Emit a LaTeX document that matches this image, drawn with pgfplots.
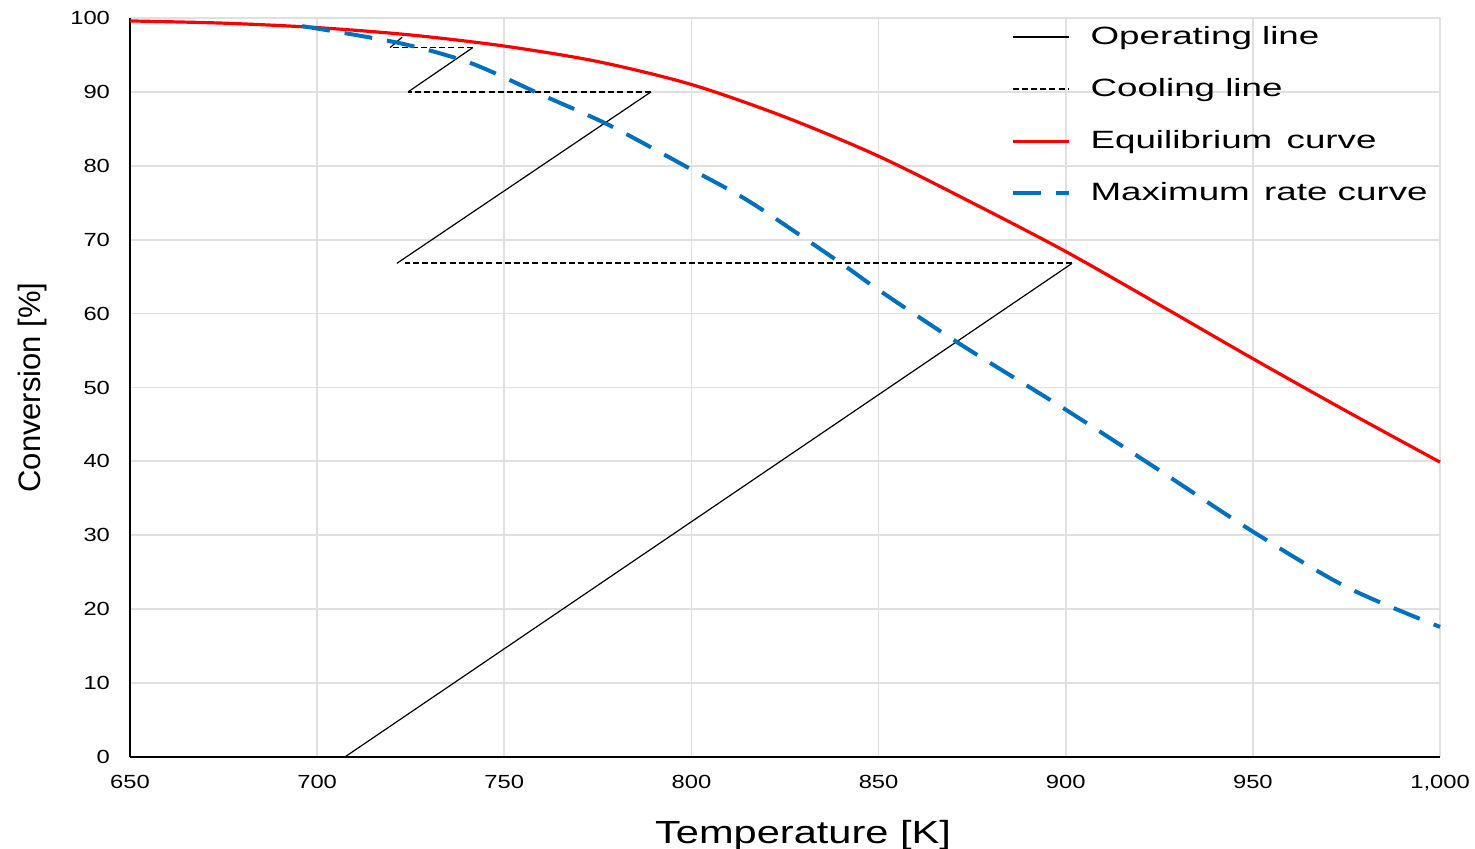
\documentclass[border=0pt]{standalone}
\usepackage{pgfplots}
\pgfplotsset{compat=1.18}
\usepackage{fontspec}
\setmainfont{Liberation Sans}
\newfontfamily\legfont{Liberation Sans}[FakeStretch=1.47]
\newfontfamily\tickfont{Liberation Sans}[FakeStretch=1.25]
\newfontfamily\xlabfont{Liberation Sans}[FakeStretch=1.3]
\definecolor{eqred}{RGB}{255,0,0}
\definecolor{rateblue}{RGB}{0,112,192}
\begin{document}
\begin{tikzpicture}
\begin{axis}[
  scale only axis, width=655pt, height=369.5pt,
  xmin=650, xmax=1000, ymin=0, ymax=100,
  xtick={650,700,...,1000}, ytick={0,10,...,100},
  grid=major, major grid style={black!12, line width=0.9pt},
  axis x line*=bottom, axis y line*=left,
  axis line style={line width=1.3pt, -},
  major tick length=0pt,
  /pgf/number format/.cd, 1000 sep={,}, assume math mode=true,
  /pgfplots/.cd,
  tick label style={font=\tickfont\fontsize{9.5}{10}\selectfont},
  xticklabel style={yshift=-5.5pt},
  yticklabel style={xshift=-6.5pt},
  xlabel={\xlabfont\fontsize{16}{18}\selectfont Temperature [K]},
  ylabel={\fontsize{15.5}{17}\selectfont Conversion [\%]},
  xlabel style={yshift=-8pt, xshift=9pt},
  ylabel style={yshift=5pt},
  legend style={at={(1,1)}, anchor=north east, draw=none, fill=none,
    font=\legfont\fontsize{12.5}{14}\selectfont, row sep=11.5pt,
    inner xsep=2pt, inner ysep=1pt, xshift=-2pt, yshift=-1pt},
  legend cell align=left,
  legend image code/.code={\draw[#1] (0pt,0pt) -- (28pt,0pt);},
  clip=false,
]
% Operating lines
\addplot[black, line width=0.6pt, unbounded coords=jump] coordinates {
 (707.4,0) (901.7,66.8)
 (721.3,nan)
 (721.3,66.8) (789.2,90.0)
 (724.3,nan)
 (724.3,90.0) (741.6,96.0)
 (719.5,nan)
 (719.5,96.0) (722.7,97.4)
};
\addlegendentry{\hspace{8pt}Operating line}
% Cooling lines
\addplot[black, line width=0.9pt, dash pattern=on 3pt off 1.6pt, unbounded coords=jump] coordinates {
 (901.7,66.8) (723.5,66.8)
 (789.2,nan)
 (789.2,90.0) (724.3,90.0)
 (741.6,nan)
 (741.6,96.0) (719.5,96.0)
};
\addlegendentry{\hspace{8pt}Cooling line}
% Equilibrium
\addplot[eqred, line width=1.6pt, smooth] coordinates {
 (650,99.6) (675,99.3) (700,98.7) (725,97.7) (750,96.2) (775,94.1)
 (800,91.0) (825,86.6) (850,81.3) (875,75.0) (900,68.4) (925,61.2)
 (950,53.9) (975,46.8) (1000,39.9)
};
\addlegendentry{\hspace{8pt}Equilibrium\, curve}
% Max rate
\addplot[rateblue, line width=2pt, dash pattern=on 14pt off 7.5pt, smooth] coordinates {
 (696,98.9) (722,96.6) (741,93.9) (760,89.6) (778,85.5) (800,79.5)
 (816,75.0) (840,66.8) (850,63.2) (872,55.8) (900,47.0) (925,38.8)
 (950,30.5) (975,23.0) (1000,17.6)
};
\addlegendentry{\hspace{8pt}Maximum\, rate curve}
\end{axis}
\pgfresetboundingbox
\path ([shift={(-65pt,-46pt)}]current axis.south west) rectangle ([shift={(17.5pt,9pt)}]current axis.north east);
\end{tikzpicture}
\end{document}
